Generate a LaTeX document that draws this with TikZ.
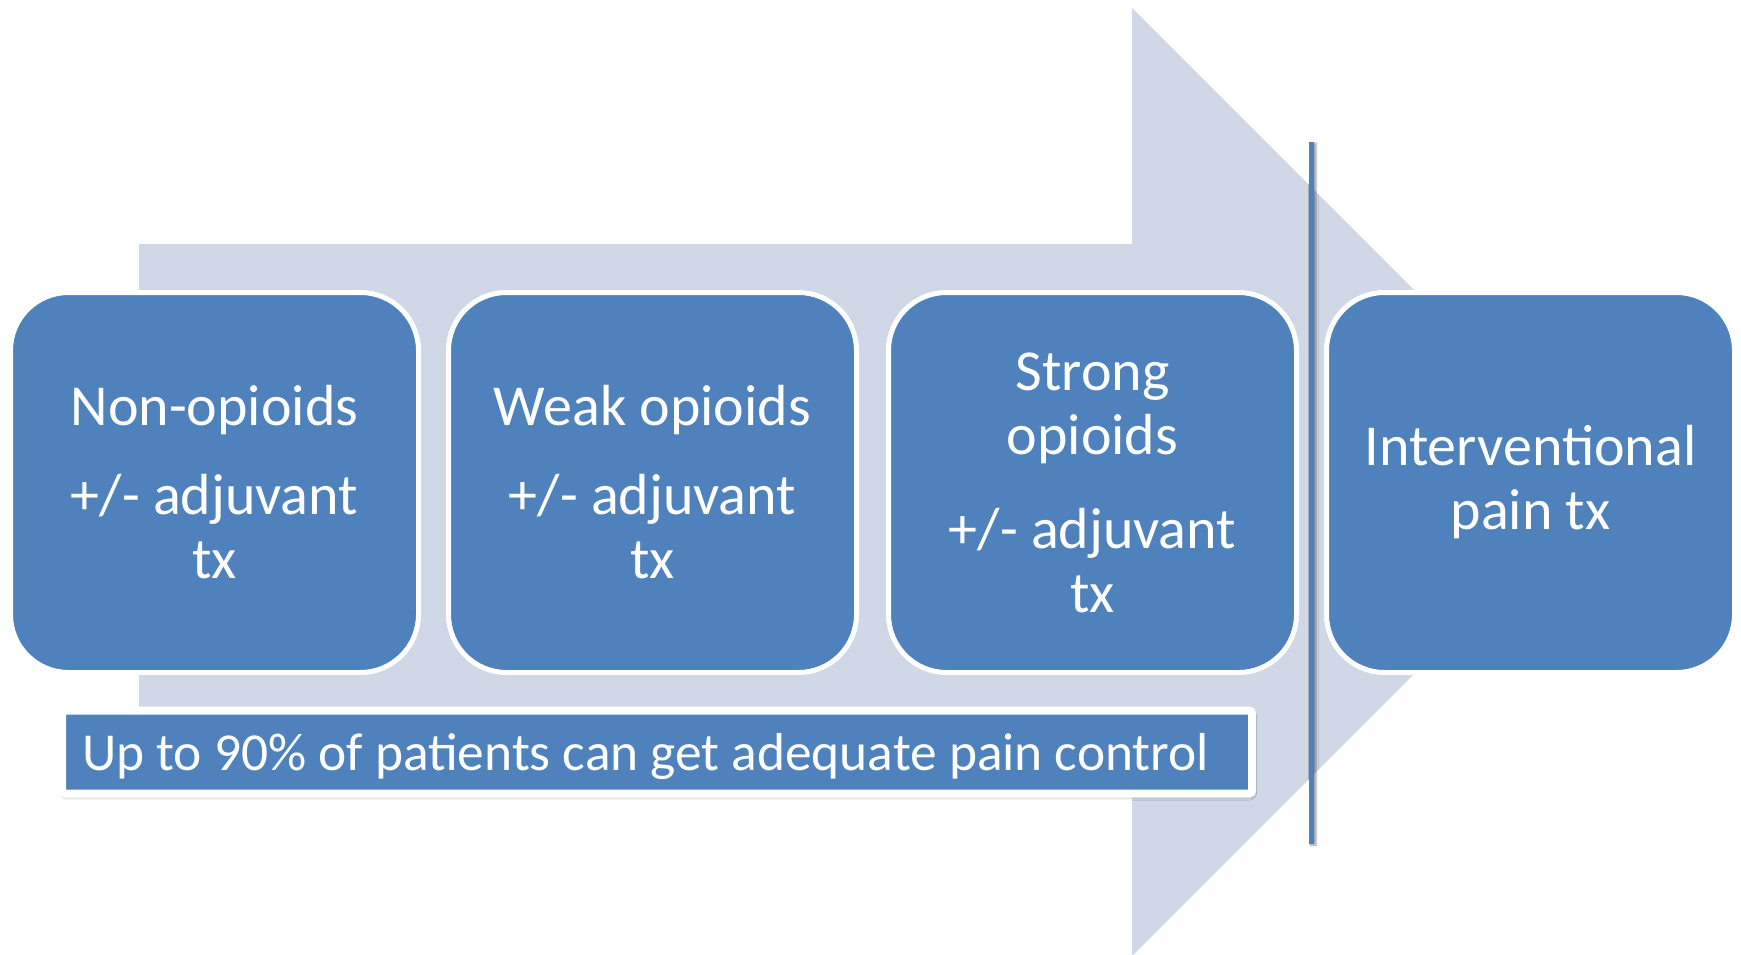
\documentclass[tikz,border=0pt]{standalone}
\usepackage{fontspec}
\setmainfont{Carlito}
\usetikzlibrary{shadows.blur}
\definecolor{stepblue}{HTML}{4F81BD}
\definecolor{arrowfill}{HTML}{D0D8E8}
\begin{document}
\begin{tikzpicture}[x=1pt,y=-1pt,
  stage/.style={draw=white, line width=5pt, fill=stepblue, rounded corners=58pt,
    minimum width=408pt, minimum height=380pt, inner sep=0pt},
  stagetext/.style={text=white, align=center, inner sep=0pt,
    font=\fontsize{58}{64}\selectfont},
  notebox/.style={draw=white, line width=8pt, fill=stepblue, rounded corners=3pt,
    minimum width=1190pt, minimum height=83pt, inner sep=0pt,
    blur shadow={shadow xshift=0.5pt, shadow yshift=-2.5pt, shadow blur radius=4pt,
      shadow opacity=55}},
  notetext/.style={text=white, inner sep=0pt, font=\fontsize{53.4}{60}\selectfont},
  divider/.style={fill=stepblue,
    blur shadow={shadow xshift=2pt, shadow yshift=-1pt, shadow blur radius=2pt,
      shadow opacity=40}},
]
\useasboundingbox (0,0) rectangle (1741,955);

% background block arrow
\fill[arrowfill] (139,244) -- (1132,244) -- (1132,8) -- (1606,482)
  -- (1132,956) -- (1132,720) -- (139,720) -- cycle;

% the four steps
\node[stage] (s1) at (214.5,482.5) {};
\node[stage] (s2) at (652.5,482.5) {};
\node[stage] (s3) at (1092.5,482.5) {};
\node[stage] (s4) at (1530.5,482.5) {};

\node[stagetext] (t1) at (s1.center) {Non-opioids\\[25pt]+/- adjuvant\\tx};
\node[stagetext] (t2) at (s2.center) {Weak opioids\\[25pt]+/- adjuvant\\tx};
\node[stagetext] (t3) at (s3.center) {Strong\\opioids\\[30pt]+/- adjuvant\\tx};
\node[stagetext] (t4) at (s4.center) {Interventional\\pain tx};

% separator before the interventional step
\fill[divider] (1308.5,142) rectangle (1314,844);

% summary banner
\node[notebox] (note) at (657,752) {};
\node[notetext, anchor=base west] (notetxt) at (82,770)
  {Up to 90\% of patients can get adequate pain control};
\end{tikzpicture}
\end{document}
